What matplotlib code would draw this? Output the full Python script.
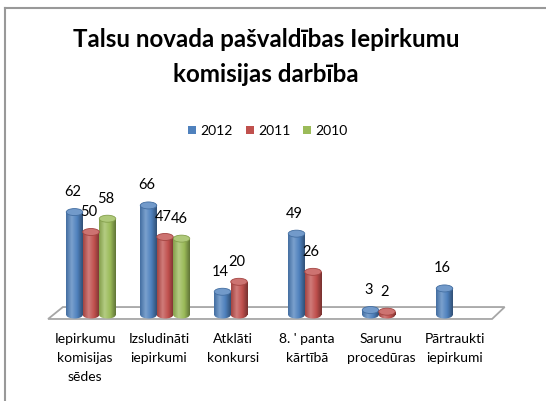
import numpy as np
import matplotlib
matplotlib.use("Agg")
import matplotlib.pyplot as plt
import matplotlib.patches as mpatches
from matplotlib.colors import LinearSegmentedColormap, to_rgb
from matplotlib.lines import Line2D

# data
categories = ["Iepirkumu\nkomisijas\nsēdes", "Izsludināti\niepirkumi", "Atklāti\nkonkursi",
              "8. ' panta\nkārtībā", "Sarunu\nprocedūras", "Pārtraukti\niepirkumi"]
series = ["2012", "2011", "2010"]
v2012 = [62, 66, 14, 49, 3, 16]
v2011 = [50, 47, 20, 26, 2, None]
v2010 = [58, 46, None, None, None, None]
colors = ["#4F81BD", "#C0504D", "#9BBB59"]

W, H = 546, 401
FONT = "Lato"

# pixel layout of the plot area (category centre / zero line / px per unit)
X0, DX = 91.0, 74.0
Y0, DY = 315.0, 1.66


def shade(c, f):
    c = np.array(to_rgb(c))
    if f >= 1:
        return tuple(c + (1 - c) * (f - 1))
    return tuple(c * f)


def cyl_cmap(c):
    return LinearSegmentedColormap.from_list(
        "cyl", [shade(c, 0.85), shade(c, 1.25), shade(c, 1.0), shade(c, 0.62)])


fig = plt.figure(figsize=(W / 100, H / 100), dpi=100)
ax = fig.add_axes([0, 0, 1, 1])
ax.axis("off")

n = len(categories)
x = np.arange(n)
bw = 16.5 / DX
ell_h = 7.0 / DY

# floor
floor = mpatches.Polygon([(-0.58, -2.4), (n - 0.58, -2.4), (n - 0.41, 4.8), (-0.38, 4.8)],
                         closed=True, facecolor="white", edgecolor="#a6a6a6", lw=1.3, zorder=1)
ax.add_patch(floor)

all_vals = [v2012, v2011, v2010]
for k, (vals, col) in enumerate(zip(all_vals, colors)):
    xs = [xi + (k - 1) * bw for xi, v in zip(x, vals) if v is not None]
    vs = [v for v in vals if v is not None]
    bars = ax.bar(xs, vs, width=bw, color=col, lw=0, zorder=3, label=series[k])
    cm = cyl_cmap(col)
    grad = np.linspace(0, 1, 64)[None, :]
    for rect, v in zip(bars, vs):
        bx, w = rect.get_x(), rect.get_width()
        # bottom rounded end
        bot = mpatches.Ellipse((bx + w / 2, 0), w, ell_h, transform=ax.transData)
        im = ax.imshow(grad, cmap=cm, extent=(bx, bx + w, -ell_h, v), aspect="auto",
                       zorder=3, interpolation="bilinear")
        im.set_clip_path(bot)
        im2 = ax.imshow(grad, cmap=cm, extent=(bx, bx + w, -ell_h, v), aspect="auto",
                        zorder=3.1, interpolation="bilinear")
        im2.set_clip_path(rect)
        # top cap
        ax.add_patch(mpatches.Ellipse((bx + w / 2, v), w, ell_h, facecolor=shade(col, 1.2),
                                      edgecolor=shade(col, 0.85), lw=0.6, zorder=3.5))
        ax.annotate(str(v), (bx + w / 2, v), xytext=(-1.5, 14.5), textcoords="offset points",
                    ha="center", va="center", fontsize=10.5, family=FONT, color="black", zorder=5)

ax.set_xlim(-X0 / DX, (W - X0) / DX)
ax.set_ylim((Y0 - H) / DY, Y0 / DY)

# category labels
for xi, lab in zip(x, categories):
    ax.text(xi - 6 / DX, (Y0 - 333) / DY, lab, ha="center", va="top", fontsize=10,
            family=FONT, linespacing=1.7, color="black")

# title
fig.text(266 / W, 1 - 47 / H, "Talsu novada pašvaldības Iepirkumu", ha="center", va="baseline",
         fontsize=17.4, fontweight="bold", family=FONT)
fig.text(266 / W, 1 - 82 / H, "komisijas darbība", ha="center", va="baseline",
         fontsize=17.4, fontweight="bold", family=FONT)

# legend with small square markers
handles = [Line2D([], [], marker="s", linestyle="none", markersize=5.2, markeredgewidth=0,
                  color=c, label=s) for c, s in zip(colors, series)]
fig.legend(handles=handles, loc="center", bbox_to_anchor=(268 / W, 1 - 131 / H), ncol=3,
           frameon=False, prop={"family": FONT, "size": 10}, handlelength=0.6,
           handletextpad=0.3, columnspacing=0.9)

# chart frame (left and top edges visible)
fig.add_artist(Line2D([4.5 / W, 4.5 / W], [0, 1 - 8 / H], color="#999999", lw=1.5))
fig.add_artist(Line2D([4.5 / W, 1], [1 - 8 / H, 1 - 8 / H], color="#999999", lw=1.5))

fig.savefig("out.png", dpi=100)
